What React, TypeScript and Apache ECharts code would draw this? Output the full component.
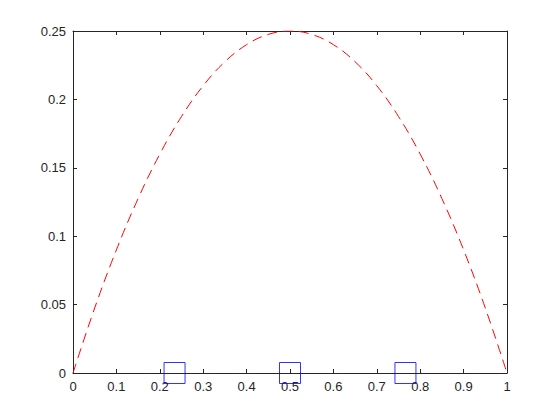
import React, { useEffect, useRef } from "react";
import * as echarts from "echarts";

// Curve readings (x, y)
const curveX = [0, 0.05, 0.1, 0.15, 0.2, 0.25, 0.3, 0.35, 0.4, 0.45, 0.5, 0.55, 0.6, 0.65, 0.7, 0.75, 0.8, 0.85, 0.9, 0.95, 1];
const curveY = [0, 0.0475, 0.09, 0.1275, 0.16, 0.1875, 0.21, 0.2275, 0.24, 0.2475, 0.25, 0.2475, 0.24, 0.2275, 0.21, 0.1875, 0.16, 0.1275, 0.09, 0.0475, 0];
// Square markers
const markX = [0.234, 0.5, 0.766];
const markY = [0, 0, 0];

const xTicks = { min: 0, max: 1, interval: 0.1 };
const yTicks = { min: 0, max: 0.25, interval: 0.05 };

const FONT = "'Liberation Sans', Arial, Helvetica, sans-serif";
const AXIS_COLOR = "#262626";

export default function App() {
  const ref = useRef<HTMLDivElement>(null);
  useEffect(() => {
    if (!ref.current) return;
    const chart = echarts.init(ref.current, undefined, { renderer: "svg" });
    const axisLine = { show: true, onZero: false, lineStyle: { color: AXIS_COLOR, width: 1 } };
    const tick = { show: true, inside: true, length: 4, lineStyle: { color: AXIS_COLOR, width: 1 } };
    const label = { color: AXIS_COLOR, fontSize: 13, fontFamily: FONT };
    chart.setOption({
      animation: false,
      backgroundColor: "#ffffff",
      grid: { left: 73, right: 53, top: 31, bottom: 47 },
      xAxis: [
        {
          type: "value",
          ...xTicks,
          axisLine,
          axisTick: tick,
          axisLabel: { ...label, margin: 7 },
          splitLine: { show: false },
        },
        {
          type: "value",
          position: "top",
          ...xTicks,
          axisLine,
          axisTick: tick,
          axisLabel: { show: false },
          splitLine: { show: false },
        },
      ],
      yAxis: [
        {
          type: "value",
          ...yTicks,
          axisLine,
          axisTick: tick,
          axisLabel: { ...label, margin: 7 },
          splitLine: { show: false },
        },
        {
          type: "value",
          position: "right",
          ...yTicks,
          axisLine,
          axisTick: tick,
          axisLabel: { show: false },
          splitLine: { show: false },
        },
      ],
      series: [
        {
          type: "line",
          data: curveX.map((x, i) => [x, curveY[i]]),
          smooth: 0.4,
          showSymbol: false,
          symbol: "none",
          lineStyle: { color: "#ff0000", width: 1, type: [10, 6] },
          z: 3,
        },
        {
          type: "scatter",
          data: markX.map((x, i) => [x, markY[i]]),
          symbol: "rect",
          symbolSize: 21,
          clip: false,
          itemStyle: { color: "rgba(0,0,0,0)", borderColor: "#0000ff", borderWidth: 1 },
          z: 4,
        },
      ],
    });
    return () => chart.dispose();
  }, []);
  return (
    <div
      ref={ref}
      style={{ position: "fixed", left: 0, top: 0, width: 560, height: 420, background: "#fff" }}
    />
  );
}
